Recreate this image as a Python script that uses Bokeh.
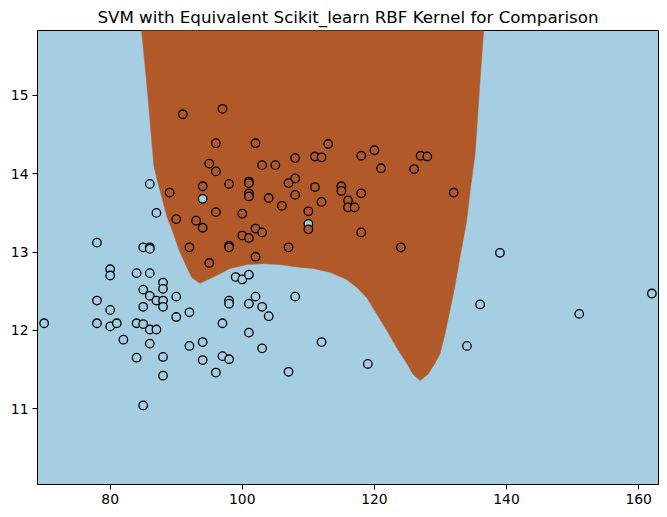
from bokeh.plotting import figure
from bokeh.models import Range1d, FixedTicker
from bokeh.embed import file_html
from bokeh.resources import INLINE

TITLE = "SVM with Equivalent Scikit_learn RBF Kernel for Comparison"

x_ticks = [80, 100, 120, 140, 160]
y_ticks = [11, 12, 13, 14, 15]

# class 1 points (brown)
brown_x = [91, 97, 96, 102, 95, 96, 103, 105, 89, 94, 98, 101, 101, 101, 101, 90, 93, 94, 96, 100,
           102, 100, 101, 92, 98, 98, 102, 95, 103, 113, 120, 118, 111, 112, 108, 121, 108, 107, 111, 115,
           115, 118, 104, 108, 106, 112, 116, 116, 117, 110, 110, 118, 107, 124, 127, 128, 126, 132]
brown_y = [14.76, 14.83, 14.39, 14.39, 14.13, 14.03, 14.11, 14.11, 13.76, 13.84, 13.87, 13.90, 13.88, 13.75, 13.71,
           13.42, 13.40, 13.31, 13.51, 13.49, 13.30, 13.21, 13.18, 13.06, 13.08, 13.06, 12.94, 12.86, 13.25,
           14.38, 14.30, 14.23, 14.22, 14.21, 14.20, 14.07, 13.94, 13.88, 13.83, 13.84, 13.78, 13.75, 13.69,
           13.73, 13.59, 13.64, 13.66, 13.57, 13.57, 13.52, 13.29, 13.25, 13.06, 13.06, 14.23, 14.22, 14.06, 13.76]

# class 0 points (light blue)
blue_x = [94, 110, 86, 87, 78, 85, 86, 86, 80, 80, 84, 86, 88, 88, 99, 100, 101, 85, 86, 90,
          78, 80, 87, 88, 88, 85, 92, 90, 70, 78, 80, 81, 84, 85, 86, 87, 82, 86, 92, 94,
          97, 98, 98, 101, 102, 103, 104, 101, 103, 108, 112, 107, 119, 84, 88, 94, 97, 98, 96, 88,
          85, 139, 162, 136, 151, 134]
blue_y = [13.68, 13.36, 13.87, 13.50, 13.12, 13.06, 13.06, 13.04, 12.78, 12.70, 12.73, 12.73, 12.61, 12.53,
          12.68, 12.65, 12.71, 12.52, 12.44, 12.43, 12.38, 12.26, 12.38, 12.38, 12.30, 12.30, 12.23, 12.17,
          12.09, 12.09, 12.05, 12.09, 12.09, 12.08, 12.01, 12.01, 11.88, 11.83, 11.80, 11.85, 12.09, 12.38,
          12.34, 12.34, 12.43, 12.30, 12.18, 11.97, 11.77, 12.43, 11.85, 11.47, 11.57, 11.65, 11.66, 11.62,
          11.67, 11.63, 11.46, 11.42, 11.04, 12.99, 12.47, 12.33, 12.21, 11.80]

# decision region (class 1) boundary
region_x = [84.67, 85.2, 85.77, 86.18, 86.64, 87.24, 87.95, 88.6, 89.56, 90.47, 91.59, 92.39, 93.6,
            95.61, 98.14, 100.67, 103.18, 105.71, 108.24, 110.75, 113.28, 115.81, 117.32, 118.83,
            120.35, 121.86, 123.37, 124.89, 125.84, 126.9, 128.11, 129.17, 129.93, 130.69, 131.44,
            132.12, 133.03, 133.96, 134.56, 135.23, 135.58, 135.99, 136.6]
region_y = [15.9, 15.45, 14.94, 14.52, 14.09, 13.88, 13.66, 13.45, 13.24, 13.02, 12.81, 12.67, 12.60,
            12.68, 12.79, 12.84, 12.85, 12.84, 12.81, 12.79, 12.74, 12.65, 12.55, 12.42,
            12.21, 12.00, 11.78, 11.58, 11.44, 11.36, 11.44, 11.58, 11.70, 11.96, 12.26,
            12.54, 12.97, 13.40, 13.83, 14.25, 14.68, 15.20, 15.9]

BG = "#a6cee3"
BROWN = "#b15928"
FONT = "DejaVu Sans"

p = figure(frame_width=621, frame_height=454,
           x_range=Range1d(69, 163), y_range=Range1d(10.03, 15.83),
           output_backend="svg", toolbar_location=None, title=TITLE,
           min_border_left=37, min_border_right=8, min_border_top=30, min_border_bottom=30)

p.background_fill_color = BG
p.border_fill_color = "white"
p.outline_line_color = "black"
p.outline_line_width = 1
p.grid.visible = False

p.title.text_font = FONT
p.title.text_font_size = "16.7px"
p.title.text_font_style = "normal"
p.title.align = "center"
p.title.text_color = "black"
p.title.standoff = 8

for ax in (p.xaxis[0], p.yaxis[0]):
    ax.major_label_text_font = FONT
    ax.major_label_text_font_size = "13.9px"
    ax.major_label_text_color = "black"
    ax.axis_line_color = "black"
    ax.major_tick_line_color = "black"
    ax.major_tick_out = 5
    ax.major_tick_in = 0
    ax.minor_tick_line_color = None
    ax.major_label_standoff = 4
p.xaxis[0].ticker = FixedTicker(ticks=x_ticks)
p.yaxis[0].ticker = FixedTicker(ticks=y_ticks)

p.patch(region_x, region_y, fill_color=BROWN, line_color=BROWN, line_width=0.5)

p.scatter(blue_x, blue_y, size=8.5, fill_color=BG, line_color="black", line_width=1.3)
p.scatter(brown_x, brown_y, size=8.5, fill_color=BROWN, line_color="black", line_width=1.3)

open("out.html", "w").write(file_html(p, INLINE))
